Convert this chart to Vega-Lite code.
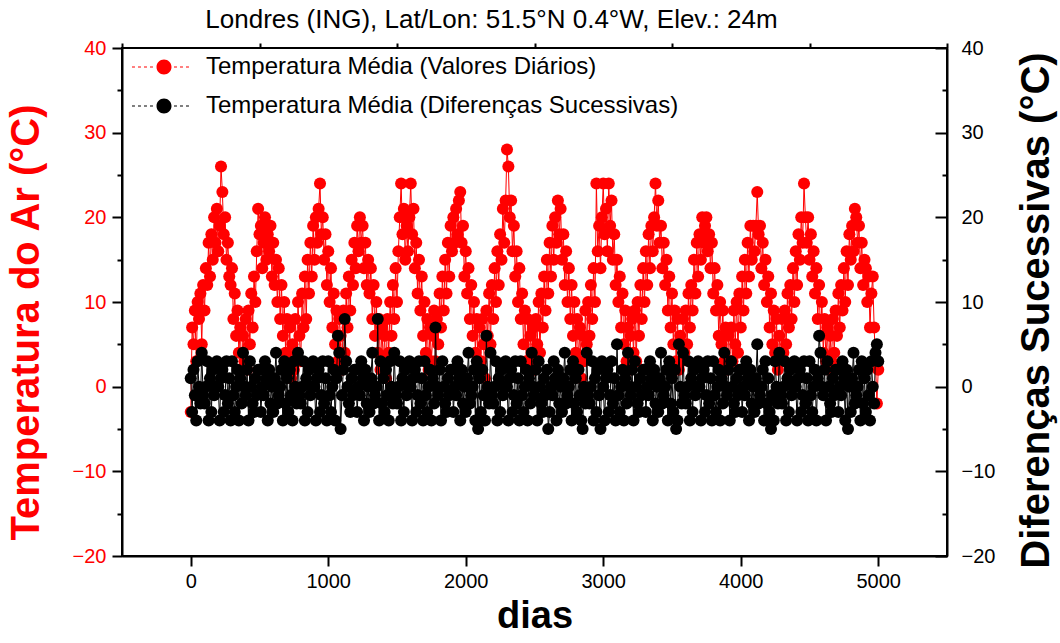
{
"$schema": "https://vega.github.io/schema/vega-lite/v6.json",
"width": 825,
"height": 508,
"autosize": {"type": "none"},
"padding": {"left": 122, "top": 48, "right": 113, "bottom": 87},
"background": "white",
"title": {"text": "Londres (ING), Lat/Lon: 51.5°N 0.4°W, Elev.: 24m", "font": "Liberation Sans", "fontSize": 26, "fontWeight": "normal", "color": "black", "anchor": "middle", "offset": 5, "dx": -43},
"config": {
 "view": {"stroke": "black", "strokeWidth": 2},
 "axis": {"grid": false, "domainColor": "black", "domainWidth": 2, "tickColor": "black", "tickWidth": 2, "labelFont": "Liberation Sans", "labelFontSize": 20, "labelColor": "black", "titleFont": "Liberation Sans", "titleFontWeight": "bold", "titleColor": "black"}
},
"data": {"values": [
{"d":0,"t":-3,"f":1},{"d":10,"t":7,"f":-3},{"d":20,"t":5,"f":2},{"d":30,"t":9,"f":-1},{"d":40,"t":3,"f":-4},{"d":50,"t":10,"f":3},{"d":60,"t":8,"f":0},{"d":70,"t":11,"f":-2},{"d":80,"t":5,"f":4},{"d":90,"t":12,"f":-1},
{"d":100,"t":9,"f":-2},{"d":110,"t":14,"f":0},{"d":120,"t":12,"f":3},{"d":130,"t":17,"f":-4},{"d":140,"t":13,"f":1},{"d":150,"t":18,"f":-3},{"d":160,"t":15,"f":2},{"d":170,"t":20,"f":-1},{"d":180,"t":17,"f":0},{"d":190,"t":21,"f":3},
{"d":200,"t":16,"f":0},{"d":210,"t":19,"f":-4},{"d":220,"t":26,"f":1},{"d":230,"t":23,"f":2},{"d":240,"t":18,"f":-3},{"d":250,"t":20,"f":-1},{"d":260,"t":15,"f":3},{"d":270,"t":17,"f":-2},{"d":280,"t":13,"f":1},{"d":290,"t":12,"f":-4},
{"d":300,"t":14,"f":3},{"d":310,"t":8,"f":-1},{"d":320,"t":11,"f":-3},{"d":330,"t":6,"f":0},{"d":340,"t":9,"f":2},{"d":350,"t":4,"f":-4},{"d":360,"t":7,"f":1},{"d":370,"t":2,"f":-2},{"d":380,"t":6,"f":4},{"d":390,"t":3,"f":0},
{"d":400,"t":8,"f":-1},{"d":410,"t":2,"f":2},{"d":420,"t":9,"f":-4},{"d":430,"t":5,"f":3},{"d":440,"t":11,"f":0},{"d":450,"t":7,"f":-2},{"d":460,"t":13,"f":-3},{"d":470,"t":10,"f":1},{"d":480,"t":16,"f":-1},{"d":490,"t":21,"f":2},
{"d":500,"t":18,"f":2},{"d":510,"t":19,"f":-3},{"d":520,"t":14,"f":0},{"d":530,"t":17,"f":-1},{"d":540,"t":20,"f":3},{"d":550,"t":15,"f":1},{"d":560,"t":18,"f":-4},{"d":570,"t":16,"f":2},{"d":580,"t":19,"f":-2},{"d":590,"t":13,"f":0},
{"d":600,"t":17,"f":-3},{"d":610,"t":12,"f":1},{"d":620,"t":15,"f":4},{"d":630,"t":10,"f":-2},{"d":640,"t":14,"f":-1},{"d":650,"t":8,"f":0},{"d":660,"t":12,"f":2},{"d":670,"t":6,"f":-4},{"d":680,"t":10,"f":3},{"d":690,"t":4,"f":-2},
{"d":700,"t":8,"f":1},{"d":710,"t":3,"f":-3},{"d":720,"t":7,"f":2},{"d":730,"t":1,"f":-1},{"d":740,"t":5,"f":-4},{"d":750,"t":2,"f":3},{"d":760,"t":8,"f":0},{"d":770,"t":4,"f":-2},{"d":780,"t":10,"f":4},{"d":790,"t":6,"f":-1},
{"d":800,"t":3,"f":-2},{"d":810,"t":11,"f":0},{"d":820,"t":7,"f":3},{"d":830,"t":13,"f":-4},{"d":840,"t":8,"f":1},{"d":850,"t":15,"f":-3},{"d":860,"t":11,"f":2},{"d":870,"t":17,"f":-1},{"d":880,"t":13,"f":0},{"d":890,"t":19,"f":3},
{"d":900,"t":15,"f":0},{"d":910,"t":20,"f":-4},{"d":920,"t":17,"f":1},{"d":930,"t":21,"f":2},{"d":940,"t":24,"f":-3},{"d":950,"t":18,"f":-1},{"d":960,"t":20,"f":3},{"d":970,"t":15,"f":-2},{"d":980,"t":18,"f":1},{"d":990,"t":12,"f":-4},
{"d":1000,"t":16,"f":3},{"d":1010,"t":10,"f":-1},{"d":1020,"t":14,"f":-3},{"d":1030,"t":7,"f":0},{"d":1040,"t":11,"f":2},{"d":1050,"t":5,"f":-4},{"d":1060,"t":9,"f":1},{"d":1070,"t":3,"f":6},{"d":1080,"t":8,"f":4},{"d":1090,"t":6,"f":-5},
{"d":1100,"t":2,"f":-1},{"d":1110,"t":9,"f":2},{"d":1120,"t":4,"f":8},{"d":1130,"t":11,"f":3},{"d":1140,"t":7,"f":0},{"d":1150,"t":13,"f":-2},{"d":1160,"t":9,"f":-3},{"d":1170,"t":15,"f":1},{"d":1180,"t":12,"f":-1},{"d":1190,"t":17,"f":2},
{"d":1200,"t":14,"f":2},{"d":1210,"t":19,"f":-3},{"d":1220,"t":16,"f":0},{"d":1230,"t":20,"f":-1},{"d":1240,"t":17,"f":3},{"d":1250,"t":19,"f":1},{"d":1260,"t":14,"f":-4},{"d":1270,"t":17,"f":2},{"d":1280,"t":12,"f":-2},{"d":1290,"t":15,"f":0},
{"d":1300,"t":11,"f":-3},{"d":1310,"t":14,"f":1},{"d":1320,"t":8,"f":4},{"d":1330,"t":12,"f":-2},{"d":1340,"t":6,"f":-1},{"d":1350,"t":10,"f":0},{"d":1360,"t":4,"f":8},{"d":1370,"t":8,"f":-4},{"d":1380,"t":2,"f":3},{"d":1390,"t":7,"f":-2},
{"d":1400,"t":3,"f":1},{"d":1410,"t":6,"f":-3},{"d":1420,"t":1,"f":2},{"d":1430,"t":8,"f":-1},{"d":1440,"t":4,"f":-4},{"d":1450,"t":10,"f":3},{"d":1460,"t":6,"f":0},{"d":1470,"t":12,"f":-2},{"d":1480,"t":8,"f":4},{"d":1490,"t":14,"f":-1},
{"d":1500,"t":10,"f":-2},{"d":1510,"t":16,"f":0},{"d":1520,"t":20,"f":3},{"d":1530,"t":24,"f":-4},{"d":1540,"t":18,"f":1},{"d":1550,"t":21,"f":-3},{"d":1560,"t":15,"f":2},{"d":1570,"t":19,"f":-1},{"d":1580,"t":16,"f":0},{"d":1590,"t":20,"f":3},
{"d":1600,"t":24,"f":0},{"d":1610,"t":18,"f":-4},{"d":1620,"t":21,"f":1},{"d":1630,"t":14,"f":2},{"d":1640,"t":17,"f":-3},{"d":1650,"t":11,"f":-1},{"d":1660,"t":15,"f":3},{"d":1670,"t":9,"f":-2},{"d":1680,"t":13,"f":1},{"d":1690,"t":6,"f":-4},
{"d":1700,"t":10,"f":3},{"d":1710,"t":4,"f":-1},{"d":1720,"t":8,"f":-3},{"d":1730,"t":2,"f":0},{"d":1740,"t":7,"f":2},{"d":1750,"t":3,"f":-4},{"d":1760,"t":6,"f":1},{"d":1770,"t":9,"f":-2},{"d":1780,"t":3,"f":7},{"d":1790,"t":8,"f":0},
{"d":1800,"t":5,"f":-1},{"d":1810,"t":11,"f":2},{"d":1820,"t":7,"f":-4},{"d":1830,"t":13,"f":3},{"d":1840,"t":9,"f":0},{"d":1850,"t":15,"f":-2},{"d":1860,"t":11,"f":-3},{"d":1870,"t":17,"f":1},{"d":1880,"t":13,"f":-1},{"d":1890,"t":19,"f":2},
{"d":1900,"t":16,"f":2},{"d":1910,"t":20,"f":-3},{"d":1920,"t":17,"f":0},{"d":1930,"t":21,"f":-1},{"d":1940,"t":18,"f":3},{"d":1950,"t":22,"f":1},{"d":1960,"t":23,"f":-4},{"d":1970,"t":17,"f":2},{"d":1980,"t":19,"f":-2},{"d":1990,"t":13,"f":0},
{"d":2000,"t":16,"f":-3},{"d":2010,"t":11,"f":1},{"d":2020,"t":14,"f":4},{"d":2030,"t":8,"f":-2},{"d":2040,"t":12,"f":-1},{"d":2050,"t":6,"f":0},{"d":2060,"t":10,"f":2},{"d":2070,"t":4,"f":-4},{"d":2080,"t":8,"f":3},{"d":2090,"t":2,"f":-5},
{"d":2100,"t":7,"f":1},{"d":2110,"t":3,"f":-3},{"d":2120,"t":8,"f":2},{"d":2130,"t":5,"f":-1},{"d":2140,"t":1,"f":-4},{"d":2150,"t":9,"f":6},{"d":2160,"t":6,"f":0},{"d":2170,"t":11,"f":-2},{"d":2180,"t":5,"f":4},{"d":2190,"t":12,"f":-1},
{"d":2200,"t":8,"f":-2},{"d":2210,"t":14,"f":0},{"d":2220,"t":10,"f":3},{"d":2230,"t":16,"f":-4},{"d":2240,"t":12,"f":1},{"d":2250,"t":18,"f":-3},{"d":2260,"t":15,"f":2},{"d":2270,"t":21,"f":-1},{"d":2280,"t":17,"f":0},{"d":2290,"t":22,"f":3},
{"d":2300,"t":28,"f":0},{"d":2310,"t":26,"f":-4},{"d":2320,"t":20,"f":1},{"d":2330,"t":22,"f":2},{"d":2340,"t":16,"f":-3},{"d":2350,"t":19,"f":-1},{"d":2360,"t":13,"f":3},{"d":2370,"t":16,"f":-2},{"d":2380,"t":10,"f":1},{"d":2390,"t":14,"f":-4},
{"d":2400,"t":8,"f":3},{"d":2410,"t":11,"f":-1},{"d":2420,"t":5,"f":-3},{"d":2430,"t":9,"f":0},{"d":2440,"t":3,"f":2},{"d":2450,"t":8,"f":-4},{"d":2460,"t":2,"f":1},{"d":2470,"t":6,"f":-2},{"d":2480,"t":3,"f":4},{"d":2490,"t":7,"f":0},
{"d":2500,"t":2,"f":-1},{"d":2510,"t":8,"f":2},{"d":2520,"t":5,"f":-4},{"d":2530,"t":10,"f":3},{"d":2540,"t":4,"f":0},{"d":2550,"t":11,"f":-2},{"d":2560,"t":7,"f":-3},{"d":2570,"t":13,"f":1},{"d":2580,"t":9,"f":-1},{"d":2590,"t":15,"f":2},
{"d":2600,"t":11,"f":-5},{"d":2610,"t":17,"f":-3},{"d":2620,"t":13,"f":0},{"d":2630,"t":19,"f":-1},{"d":2640,"t":15,"f":3},{"d":2650,"t":20,"f":1},{"d":2660,"t":17,"f":-4},{"d":2670,"t":22,"f":2},{"d":2680,"t":18,"f":-2},{"d":2690,"t":21,"f":0},
{"d":2700,"t":15,"f":-3},{"d":2710,"t":18,"f":1},{"d":2720,"t":12,"f":4},{"d":2730,"t":16,"f":-2},{"d":2740,"t":10,"f":-1},{"d":2750,"t":14,"f":0},{"d":2760,"t":8,"f":2},{"d":2770,"t":12,"f":-4},{"d":2780,"t":6,"f":3},{"d":2790,"t":10,"f":-2},
{"d":2800,"t":4,"f":1},{"d":2810,"t":8,"f":-3},{"d":2820,"t":3,"f":2},{"d":2830,"t":7,"f":-1},{"d":2840,"t":1,"f":-4},{"d":2850,"t":6,"f":-5},{"d":2860,"t":3,"f":0},{"d":2870,"t":9,"f":-2},{"d":2880,"t":5,"f":4},{"d":2890,"t":10,"f":-1},
{"d":2900,"t":6,"f":-2},{"d":2910,"t":12,"f":0},{"d":2920,"t":8,"f":3},{"d":2930,"t":14,"f":-4},{"d":2940,"t":10,"f":1},{"d":2950,"t":24,"f":-3},{"d":2960,"t":16,"f":2},{"d":2970,"t":19,"f":-1},{"d":2980,"t":14,"f":-5},{"d":2990,"t":20,"f":3},
{"d":3000,"t":24,"f":0},{"d":3010,"t":18,"f":-4},{"d":3020,"t":21,"f":1},{"d":3030,"t":16,"f":2},{"d":3040,"t":24,"f":-3},{"d":3050,"t":19,"f":-1},{"d":3060,"t":22,"f":3},{"d":3070,"t":15,"f":-2},{"d":3080,"t":18,"f":1},{"d":3090,"t":12,"f":-4},
{"d":3100,"t":15,"f":5},{"d":3110,"t":10,"f":-1},{"d":3120,"t":13,"f":-3},{"d":3130,"t":7,"f":0},{"d":3140,"t":11,"f":2},{"d":3150,"t":5,"f":-4},{"d":3160,"t":9,"f":1},{"d":3170,"t":3,"f":-2},{"d":3180,"t":7,"f":4},{"d":3190,"t":2,"f":0},
{"d":3200,"t":6,"f":-1},{"d":3210,"t":8,"f":2},{"d":3220,"t":4,"f":-4},{"d":3230,"t":9,"f":3},{"d":3240,"t":3,"f":0},{"d":3250,"t":10,"f":-2},{"d":3260,"t":6,"f":-3},{"d":3270,"t":12,"f":1},{"d":3280,"t":8,"f":-1},{"d":3290,"t":14,"f":2},
{"d":3300,"t":10,"f":2},{"d":3310,"t":16,"f":-3},{"d":3320,"t":12,"f":0},{"d":3330,"t":18,"f":-1},{"d":3340,"t":14,"f":3},{"d":3350,"t":19,"f":1},{"d":3360,"t":16,"f":-4},{"d":3370,"t":20,"f":2},{"d":3380,"t":24,"f":-2},{"d":3390,"t":19,"f":0},
{"d":3400,"t":22,"f":-3},{"d":3410,"t":17,"f":1},{"d":3420,"t":19,"f":4},{"d":3430,"t":14,"f":-2},{"d":3440,"t":17,"f":-1},{"d":3450,"t":12,"f":0},{"d":3460,"t":15,"f":2},{"d":3470,"t":9,"f":-4},{"d":3480,"t":13,"f":3},{"d":3490,"t":7,"f":-2},
{"d":3500,"t":11,"f":1},{"d":3510,"t":5,"f":-3},{"d":3520,"t":9,"f":2},{"d":3530,"t":3,"f":-5},{"d":3540,"t":8,"f":-4},{"d":3550,"t":2,"f":5},{"d":3560,"t":6,"f":0},{"d":3570,"t":3,"f":-2},{"d":3580,"t":8,"f":4},{"d":3590,"t":4,"f":-1},
{"d":3600,"t":9,"f":-2},{"d":3610,"t":5,"f":0},{"d":3620,"t":11,"f":3},{"d":3630,"t":7,"f":-4},{"d":3640,"t":12,"f":1},{"d":3650,"t":9,"f":-3},{"d":3660,"t":15,"f":2},{"d":3670,"t":11,"f":-1},{"d":3680,"t":17,"f":0},{"d":3690,"t":13,"f":3},
{"d":3700,"t":18,"f":0},{"d":3710,"t":15,"f":-4},{"d":3720,"t":20,"f":1},{"d":3730,"t":17,"f":2},{"d":3740,"t":19,"f":-3},{"d":3750,"t":20,"f":-1},{"d":3760,"t":16,"f":3},{"d":3770,"t":18,"f":-2},{"d":3780,"t":14,"f":1},{"d":3790,"t":17,"f":-4},
{"d":3800,"t":11,"f":3},{"d":3810,"t":14,"f":-1},{"d":3820,"t":9,"f":-3},{"d":3830,"t":12,"f":0},{"d":3840,"t":6,"f":2},{"d":3850,"t":10,"f":-4},{"d":3860,"t":5,"f":1},{"d":3870,"t":9,"f":-2},{"d":3880,"t":3,"f":4},{"d":3890,"t":7,"f":0},
{"d":3900,"t":2,"f":-1},{"d":3910,"t":6,"f":2},{"d":3920,"t":3,"f":-4},{"d":3930,"t":7,"f":3},{"d":3940,"t":3,"f":0},{"d":3950,"t":9,"f":-2},{"d":3960,"t":5,"f":-3},{"d":3970,"t":10,"f":1},{"d":3980,"t":4,"f":-1},{"d":3990,"t":11,"f":2},
{"d":4000,"t":7,"f":2},{"d":4010,"t":13,"f":-3},{"d":4020,"t":9,"f":0},{"d":4030,"t":15,"f":-1},{"d":4040,"t":11,"f":3},{"d":4050,"t":17,"f":1},{"d":4060,"t":13,"f":-4},{"d":4070,"t":19,"f":2},{"d":4080,"t":15,"f":-2},{"d":4090,"t":19,"f":0},
{"d":4100,"t":16,"f":-3},{"d":4110,"t":19,"f":1},{"d":4120,"t":23,"f":5},{"d":4130,"t":18,"f":-2},{"d":4140,"t":19,"f":-1},{"d":4150,"t":14,"f":0},{"d":4160,"t":17,"f":2},{"d":4170,"t":12,"f":-4},{"d":4180,"t":15,"f":3},{"d":4190,"t":10,"f":-2},
{"d":4200,"t":13,"f":1},{"d":4210,"t":7,"f":-3},{"d":4220,"t":11,"f":-5},{"d":4230,"t":5,"f":-1},{"d":4240,"t":9,"f":-4},{"d":4250,"t":4,"f":3},{"d":4260,"t":8,"f":0},{"d":4270,"t":2,"f":-2},{"d":4280,"t":6,"f":4},{"d":4290,"t":3,"f":-1},
{"d":4300,"t":8,"f":-2},{"d":4310,"t":4,"f":0},{"d":4320,"t":9,"f":3},{"d":4330,"t":5,"f":-4},{"d":4340,"t":11,"f":1},{"d":4350,"t":7,"f":-3},{"d":4360,"t":12,"f":2},{"d":4370,"t":8,"f":-1},{"d":4380,"t":14,"f":0},{"d":4390,"t":10,"f":3},
{"d":4400,"t":16,"f":0},{"d":4410,"t":12,"f":-4},{"d":4420,"t":18,"f":1},{"d":4430,"t":15,"f":2},{"d":4440,"t":20,"f":-3},{"d":4450,"t":17,"f":-1},{"d":4460,"t":24,"f":3},{"d":4470,"t":20,"f":-2},{"d":4480,"t":17,"f":1},{"d":4490,"t":20,"f":-4},
{"d":4500,"t":15,"f":3},{"d":4510,"t":18,"f":-1},{"d":4520,"t":13,"f":-3},{"d":4530,"t":16,"f":0},{"d":4540,"t":11,"f":2},{"d":4550,"t":14,"f":-4},{"d":4560,"t":8,"f":1},{"d":4570,"t":12,"f":6},{"d":4580,"t":6,"f":4},{"d":4590,"t":10,"f":0},
{"d":4600,"t":4,"f":-1},{"d":4610,"t":8,"f":2},{"d":4620,"t":3,"f":-4},{"d":4630,"t":7,"f":3},{"d":4640,"t":2,"f":0},{"d":4650,"t":6,"f":-2},{"d":4660,"t":3,"f":-3},{"d":4670,"t":8,"f":1},{"d":4680,"t":4,"f":-1},{"d":4690,"t":9,"f":2},
{"d":4700,"t":6,"f":2},{"d":4710,"t":11,"f":-3},{"d":4720,"t":7,"f":0},{"d":4730,"t":12,"f":-1},{"d":4740,"t":9,"f":3},{"d":4750,"t":14,"f":1},{"d":4760,"t":10,"f":-4},{"d":4770,"t":16,"f":2},{"d":4780,"t":12,"f":-5},{"d":4790,"t":18,"f":0},
{"d":4800,"t":15,"f":-3},{"d":4810,"t":19,"f":1},{"d":4820,"t":16,"f":4},{"d":4830,"t":21,"f":-2},{"d":4840,"t":20,"f":-1},{"d":4850,"t":17,"f":0},{"d":4860,"t":19,"f":2},{"d":4870,"t":14,"f":-4},{"d":4880,"t":17,"f":3},{"d":4890,"t":12,"f":-2},
{"d":4900,"t":15,"f":1},{"d":4910,"t":14,"f":-3},{"d":4920,"t":10,"f":2},{"d":4930,"t":13,"f":-1},{"d":4940,"t":7,"f":-4},{"d":4950,"t":11,"f":3},{"d":4960,"t":13,"f":0},{"d":4970,"t":7,"f":-2},{"d":4980,"t":3,"f":4},{"d":4990,"t":-2,"f":5},
{"d":5000,"t":2,"f":3}
]},
"layer": [
 {
  "mark": {"type": "line", "strokeWidth": 1},
  "encoding": {
   "x": {"field": "d", "type": "quantitative", "scale": {"domain": [-500, 5500], "nice": false, "zero": false},
         "axis": {"values": [0, 1000, 2000, 3000, 4000, 5000], "format": "d", "tickSize": 10, "labelPadding": 5, "title": "dias", "titleFontSize": 38, "titlePadding": 6}},
   "y": {"field": "t", "type": "quantitative", "scale": {"domain": [-20, 40], "nice": false, "zero": false},
         "axis": {"orient": "left", "values": [-20, -10, 0, 10, 20, 30, 40], "tickSize": 10, "labelPadding": 6, "labelColor": "#ff0000",
                  "title": "Temperatura do Ar (°C)", "titleColor": "#ff0000", "titleFontSize": 40, "titlePadding": 26, "titleY": 274}},
   "color": {"datum": "Temperatura Média (Valores Diários)", "type": "nominal",
             "scale": {"domain": ["Temperatura Média (Valores Diários)", "Temperatura Média (Diferenças Sucessivas)"], "range": ["#ff0000", "#000000"]},
             "legend": {"title": null, "orient": "none", "legendX": 30, "legendY": 7, "padding": 0,
                        "symbolType": "M-4.27,-0.08h0.4v0.16h-0.4zM-3.47,-0.08h0.4v0.16h-0.4zM-2.67,-0.08h0.4v0.16h-0.4zM-1.87,-0.08h0.4v0.16h-0.4zM1.33,-0.08h0.4v0.16h-0.4zM2.13,-0.08h0.4v0.16h-0.4zM2.93,-0.08h0.4v0.16h-0.4zM-1,0a1,1 0 1,0 2,0a1,1 0 1,0 -2,0z",
                        "symbolSize": 225, "symbolStrokeWidth": 0, "labelFont": "Liberation Sans", "labelFontSize": 24, "labelColor": "black", "labelOffset": 30, "labelLimit": 600, "rowPadding": 15,
                        "encode": {"symbols": {"update": {"fill": {"scale": "color", "field": "value"}, "stroke": {"value": "transparent"}, "opacity": {"value": 1}}}}}}
  }
 },
 {
  "mark": {"type": "point", "filled": true, "size": 145, "shape": "circle", "opacity": 1},
  "encoding": {
   "x": {"field": "d", "type": "quantitative", "scale": {"domain": [-500, 5500], "nice": false, "zero": false},
         "axis": {"values": [-500, 500, 1500, 2500, 3500, 4500, 5500], "tickSize": 5, "labels": false, "domain": false, "title": null}},
   "y": {"field": "t", "type": "quantitative", "scale": {"domain": [-20, 40], "nice": false, "zero": false},
         "axis": {"orient": "left", "values": [-15, -5, 5, 15, 25, 35], "tickSize": 5, "labels": false, "domain": false, "title": null}},
   "color": {"datum": "Temperatura Média (Valores Diários)", "type": "nominal"}
  }
 },
 {
  "mark": {"type": "line", "strokeWidth": 1},
  "encoding": {
   "x": {"field": "d", "type": "quantitative", "axis": null},
   "y": {"field": "f", "type": "quantitative", "scale": {"domain": [-20, 40], "nice": false, "zero": false},
         "axis": {"orient": "right", "values": [-20, -10, 0, 10, 20, 30, 40], "tickSize": -12, "labelPadding": 26, "labelColor": "black",
                  "title": "Diferenças Sucessivas (°C)", "titleFontSize": 40, "titleAngle": 270, "titleBaseline": "top", "titlePadding": 22, "titleY": 262}},
   "color": {"datum": "Temperatura Média (Diferenças Sucessivas)", "type": "nominal"}
  }
 },
 {
  "mark": {"type": "point", "filled": true, "size": 145, "shape": "circle", "opacity": 1},
  "encoding": {
   "x": {"field": "d", "type": "quantitative", "axis": null},
   "y": {"field": "f", "type": "quantitative", "scale": {"domain": [-20, 40], "nice": false, "zero": false},
         "axis": {"orient": "right", "values": [-15, -5, 5, 15, 25, 35], "tickSize": -5, "labels": false, "domain": false, "title": null}},
   "color": {"datum": "Temperatura Média (Diferenças Sucessivas)", "type": "nominal"}
  }
 }
],
"resolve": {"scale": {"y": "independent"}, "axis": {"x": "independent", "y": "independent"}}
}
